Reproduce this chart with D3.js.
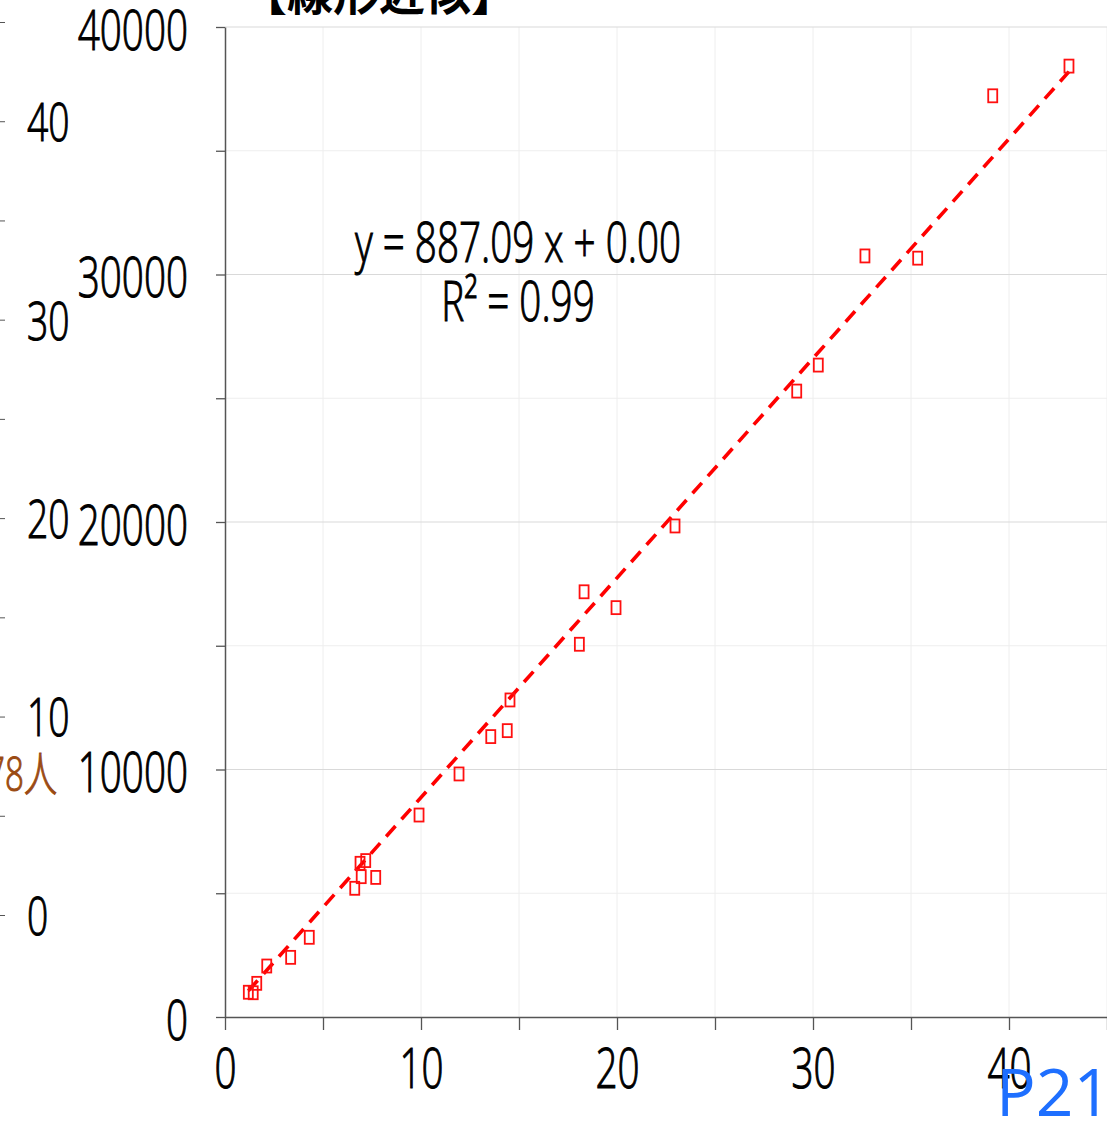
<!DOCTYPE html>
<html><head><meta charset="utf-8">
<script src="https://cdn.jsdelivr.net/npm/d3@7"></script>
<style>body{margin:0;background:#fff} svg{display:block} text{font-family:"Open Sans","Noto Sans","Noto Sans CJK JP",sans-serif}</style>
</head><body><svg id="c" width="1107" height="1122"></svg>
<script>
// ---- data ----
const xValues = [1.19, 1.44, 1.62, 2.13, 3.35, 4.30, 6.62, 6.95, 6.89, 7.18, 7.69, 9.90, 11.94, 13.56, 14.40, 14.54, 18.08, 18.32, 19.95, 22.96, 29.17, 30.27, 32.65, 35.34, 39.17, 43.06];
const yValues = [1000, 980, 1360, 2060, 2410, 3220, 5200, 5670, 6210, 6320, 5640, 8160, 9820, 11330, 11570, 12810, 15060, 17180, 16540, 19840, 25290, 26340, 30750, 30660, 37220, 38420];
const slope = 887.09, intercept = 0.00, r2 = 0.99;
const xTicks = [0, 5, 10, 15, 20, 25, 30, 35, 40, 45];
const yTicks = [0, 5000, 10000, 15000, 20000, 25000, 30000, 35000, 40000];
const bgTicks = [0, 5, 10, 15, 20, 25, 30, 35, 40, 45];
const titleText = "【線形近似】";
const sideText = "78人";
const pageText = "P21";
const eqText = `y = ${slope.toFixed(2)} x + ${intercept.toFixed(2)}`;
const r2Text = `R² = ${r2.toFixed(2)}`;

// ---- drawing ----
const FONT = "Open Sans, Noto Sans, sans-serif";
const FW = 300;
const TS = 1.1; // extra stroke to thicken light glyphs
const svg = d3.select("#c");
svg.append("rect").attr("width",1107).attr("height",1122).attr("fill","#fff");
const SX = 0.69;
const x = d3.scaleLinear().domain([0,45]).range([225,1107]);
const y = d3.scaleLinear().domain([0,40000]).range([1017,27]);
const yBg = d3.scaleLinear().domain([0,45]).range([915,22]);

function styleText(sel, size, fill){
  sel.attr("font-size",size).attr("font-family",FONT).attr("font-weight",FW)
     .attr("fill",fill).attr("stroke",fill).attr("stroke-width",TS);
}

// gridlines
svg.append("g").selectAll("line").data(xTicks.filter(d=>d>0)).join("line")
  .attr("x1",d=>x(d)).attr("x2",d=>x(d)).attr("y1",y(40000)).attr("y2",y(0))
  .attr("stroke","#eeeeee").attr("stroke-width",1);
svg.append("g").selectAll("line").data(yTicks.filter(d=>d>0)).join("line")
  .attr("x1",x(0)).attr("x2",1107).attr("y1",d=>y(d)).attr("y2",d=>y(d))
  .attr("stroke",d=>d%10000===0?"#d9d9d9":"#eeeeee").attr("stroke-width",1.2);

// background (left) axis fragment
const gb = svg.append("g")
  .call(d3.axisRight(yBg).tickValues(bgTicks).tickSize(5).tickFormat(d=>d%10===0?d:""));
gb.select(".domain").remove();
gb.selectAll("line").attr("stroke","#555");
styleText(gb.selectAll("text").attr("x",0).attr("dy","0.36em")
  .attr("transform",`translate(27,0) scale(${SX},1)`), 54, "#000");

// x axis
const gx = svg.append("g").attr("transform",`translate(0,${y(0)})`)
  .call(d3.axisBottom(x).tickValues(xTicks).tickSize(13).tickSizeOuter(0).tickFormat(d=>d%10===0?d:""));
gx.select(".domain").attr("stroke","#555").attr("stroke-width",1.5);
gx.selectAll(".tick line").attr("stroke","#555").attr("stroke-width",1.3);
styleText(gx.selectAll("text").attr("y",31).attr("dy","0.71em")
  .attr("transform",`scale(${SX},1)`), 56, "#000");

// y axis
const gy = svg.append("g").attr("transform",`translate(${x(0)},0)`)
  .call(d3.axisLeft(y).tickValues(yTicks).tickSize(9).tickSizeOuter(0).tickFormat(d=>d%10000===0?d:""));
gy.select(".domain").attr("stroke","#555").attr("stroke-width",1.5);
gy.selectAll(".tick line").attr("stroke","#555").attr("stroke-width",1.3);
styleText(gy.selectAll("text").attr("x",0).attr("dy","0.4em")
  .attr("transform",`translate(-37,0) scale(${SX},1)`), 56, "#000");

// trendline
const xmin = d3.min(xValues), xmax = d3.max(xValues);
const trend = [xmin, xmax].map(v => ({x:v, y: slope*v + intercept}));
svg.append("path").datum(trend)
  .attr("d", d3.line().x(d=>x(d.x)).y(d=>y(d.y)))
  .attr("fill","none").attr("stroke","#ff0000").attr("stroke-width",3.6)
  .attr("stroke-dasharray","14,9");

// markers
const pts = xValues.map((v,i)=>({x:v,y:yValues[i]}));
svg.append("g").selectAll("rect").data(pts).join("rect")
  .attr("x",d=>x(d.x)-4.5).attr("y",d=>y(d.y)-6.5)
  .attr("width",9).attr("height",13)
  .attr("fill","none").attr("stroke","#ff1010").attr("stroke-width",1.8);

// equation
styleText(svg.append("text").attr("transform",`translate(518,262) scale(${SX},1)`)
  .attr("text-anchor","middle").text(eqText), 56, "#000");
styleText(svg.append("text").attr("transform",`translate(518,321) scale(${SX},1)`)
  .attr("text-anchor","middle").text(r2Text), 56, "#000");

// title (cut at top)
svg.append("text").attr("transform","translate(379,10)")
  .attr("text-anchor","middle").attr("font-size",46).attr("font-weight","bold")
  .attr("font-family","Noto Sans CJK JP").attr("fill","#000").text(titleText);

// side label (cut at left)
styleText(svg.append("text").attr("transform",`translate(57,791) scale(${SX},1)`)
  .attr("text-anchor","end").text(sideText), 48, "#9a4a12");

// page label
svg.append("text").attr("x",996).attr("y",1116)
  .attr("font-size",66).attr("font-family","DejaVu Sans").attr("fill","#1e6fff").text(pageText);
</script></body></html>
